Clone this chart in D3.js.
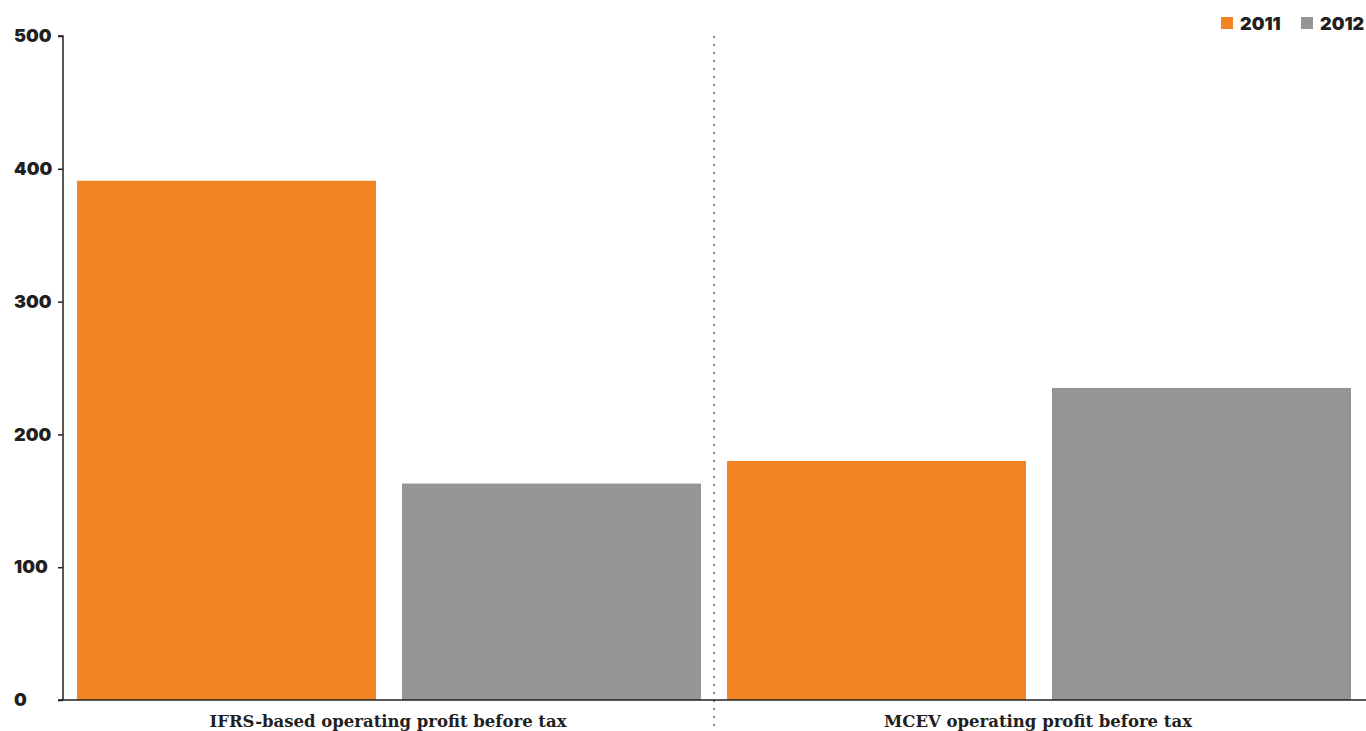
<!DOCTYPE html>
<html>
<head>
<meta charset="utf-8">
<script src="https://cdn.jsdelivr.net/npm/d3@7"></script>
<style>
  body { margin: 0; background: #fff; }
  svg { display: block; }
  .tick text { font-family: Inter, Lato, "Noto Sans", sans-serif; font-weight: 900; font-size: 18px; fill: #231f20; }
  .cat { font-family: "DejaVu Serif", serif; font-weight: bold; font-size: 17.5px; fill: #231f20; }
  .legend text { font-family: Inter, Lato, "Noto Sans", sans-serif; font-weight: 900; font-size: 18px; fill: #231f20; }
</style>
</head>
<body>
<div id="chart"></div>
<script>
"use strict";
const categories = ["IFRS-based operating profit before tax", "MCEV operating profit before tax"];
const seriesNames = ["2011", "2012"];
const values2011 = [391, 180];
const values2012 = [163, 235];
const yTicks = [0, 100, 200, 300, 400, 500];
const colors = ["#f38423", "#959598"];

const W = 1366, H = 731;
const margin = { top: 36, right: 2, bottom: 31, left: 64 };

const svg = d3.select("#chart").append("svg")
    .attr("width", W)
    .attr("height", H)
    .attr("viewBox", `0 0 ${W} ${H}`);

const y = d3.scaleLinear().domain([0, 500]).range([H - margin.bottom, margin.top]);
const x0 = d3.scaleBand().domain(d3.range(categories.length)).range([margin.left, W - margin.right]);
const x1 = d3.scaleBand().domain(seriesNames).range([0, x0.bandwidth()]).paddingInner(0.08).paddingOuter(0.04);

const data = categories.map((c, i) => ({
    category: c,
    values: [values2011[i], values2012[i]]
}));

// bars
const groups = svg.append("g").selectAll("g")
    .data(data)
    .join("g")
    .attr("transform", (d, i) => `translate(${x0(i)},0)`);

groups.selectAll("rect")
    .data(d => d.values.map((v, j) => ({ key: seriesNames[j], value: v, color: colors[j] })))
    .join("rect")
    .attr("x", d => x1(d.key))
    .attr("width", x1.bandwidth())
    .attr("y", d => y(d.value))
    .attr("height", d => y(0) - y(d.value))
    .attr("fill", d => d.color);

// dotted divider between groups
svg.append("line")
    .attr("x1", x0(1)).attr("x2", x0(1))
    .attr("y1", margin.top).attr("y2", H)
    .attr("stroke", "#8a8a80")
    .attr("stroke-width", 2)
    .attr("stroke-dasharray", "2,6");

// y axis
const yAxis = svg.append("g")
    .attr("transform", `translate(${margin.left - 1},0)`)
    .call(d3.axisLeft(y).tickValues(yTicks).tickSize(5).tickPadding(12).tickFormat(d3.format("d")));
yAxis.select(".domain").attr("stroke", "#231f20").attr("stroke-width", 1.5).attr("d", `M-5,${y(500)}H0V${y(0)}`);
yAxis.selectAll(".tick line").attr("stroke", "#231f20").attr("stroke-width", 1.5);
yAxis.selectAll(".tick text").attr("text-anchor", "start").attr("x", -(margin.left - 15));

// baseline
svg.append("line")
    .attr("x1", margin.left - 6).attr("x2", W)
    .attr("y1", y(0)).attr("y2", y(0))
    .attr("stroke", "#231f20")
    .attr("stroke-width", 1.5);

// category labels
svg.append("g").selectAll("text")
    .data(data)
    .join("text")
    .attr("class", "cat")
    .attr("x", (d, i) => x0(i) + x0.bandwidth() / 2 - 1)
    .attr("y", H - 4)
    .attr("text-anchor", "middle")
    .attr("textLength", (d, i) => i === 0 ? 357 : 308)
    .attr("lengthAdjust", "spacingAndGlyphs")
    .text(d => d.category);

// legend
const legend = svg.append("g").attr("class", "legend")
    .selectAll("g")
    .data(seriesNames)
    .join("g")
    .attr("transform", (d, i) => `translate(${1221 + i * 80},17)`);
legend.append("rect").attr("width", 12).attr("height", 12).attr("fill", (d, i) => colors[i]);
legend.append("text").attr("x", 19).attr("y", 12.5).text(d => d);
</script>
</body>
</html>
